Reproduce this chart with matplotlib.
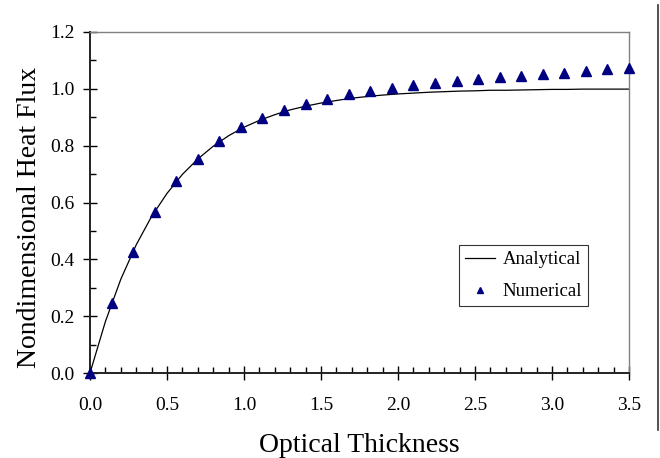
import matplotlib
matplotlib.use("Agg")
import matplotlib.pyplot as plt
from matplotlib.lines import Line2D
from matplotlib.ticker import MultipleLocator, FormatStrFormatter

# --- DATA ---
tau_analytical = [0.0, 0.1, 0.2, 0.3, 0.4, 0.5, 0.6, 0.7, 0.8, 0.9,
                  1.0, 1.1, 1.2, 1.3, 1.4, 1.5, 1.6, 1.7, 1.8, 1.9,
                  2.0, 2.1, 2.2, 2.3, 2.4, 2.5, 2.6, 2.7, 2.8, 2.9,
                  3.0, 3.1, 3.2, 3.3, 3.4, 3.5]
flux_analytical = [0.000, 0.181, 0.330, 0.451, 0.551, 0.632, 0.699, 0.753, 0.798, 0.835,
                   0.865, 0.889, 0.909, 0.926, 0.939, 0.950, 0.959, 0.967, 0.973, 0.978,
                   0.982, 0.985, 0.988, 0.990, 0.992, 0.993, 0.995, 0.995, 0.996, 0.997,
                   0.998, 0.998, 0.999, 0.999, 0.999, 0.999]

tau_numerical = [0.00, 0.14, 0.28, 0.42, 0.56, 0.70, 0.84, 0.98, 1.12, 1.26,
                 1.40, 1.54, 1.68, 1.82, 1.96, 2.10, 2.24, 2.38, 2.52, 2.66,
                 2.80, 2.94, 3.08, 3.22, 3.36, 3.50]
flux_numerical = [0.000, 0.245, 0.427, 0.567, 0.674, 0.753, 0.816, 0.864, 0.899, 0.927,
                  0.945, 0.963, 0.981, 0.994, 1.004, 1.012, 1.019, 1.027, 1.033, 1.040,
                  1.046, 1.051, 1.057, 1.064, 1.069, 1.074]

x_ticks = [0.0, 0.5, 1.0, 1.5, 2.0, 2.5, 3.0, 3.5]
y_ticks = [0.0, 0.2, 0.4, 0.6, 0.8, 1.0, 1.2]

plt.rcParams['font.family'] = ['Liberation Serif', 'DejaVu Serif']

fig = plt.figure(figsize=(6.6, 4.58), dpi=100)
ax = fig.add_axes([90 / 660, 85 / 458, 539 / 660, 341 / 458])

ax.plot(tau_analytical, flux_analytical, color='black', linewidth=0.9, label='Analytical')
ax.plot(tau_numerical, flux_numerical, linestyle='none', marker='^', markersize=7,
        color='#000080', label='Numerical', clip_on=False, zorder=5)

ax.set_xlim(0, 3.5)
ax.set_ylim(0, 1.2)
ax.set_xticks(x_ticks)
ax.set_yticks(y_ticks)
ax.xaxis.set_major_formatter(FormatStrFormatter('%.1f'))
ax.yaxis.set_major_formatter(FormatStrFormatter('%.1f'))
ax.xaxis.set_minor_locator(MultipleLocator(0.1))
ax.yaxis.set_minor_locator(MultipleLocator(0.1))

ax.tick_params(axis='both', which='major', direction='inout', length=10, width=1.0,
               labelsize=14, color='black')
ax.tick_params(axis='both', which='minor', direction='in', length=4, width=1.0, color='black')
ax.tick_params(axis='x', which='major', pad=12)
ax.tick_params(axis='y', which='major', pad=6)

for side in ['left', 'bottom']:
    ax.spines[side].set_color('#222222')
    ax.spines[side].set_linewidth(1.4)
for side in ['top', 'right']:
    ax.spines[side].set_color('#808080')
    ax.spines[side].set_linewidth(1.0)

ax.set_xlabel('Optical Thickness', fontsize=20, labelpad=14)
ax.set_ylabel('Nondimensional Heat Flux', fontsize=20)
ax.yaxis.set_label_coords(-0.089, 0.456)

leg = ax.legend(loc='upper left', bbox_to_anchor=((459 - 90) / 539, 1 - (245 - 32) / 341),
                fontsize=13.5, frameon=True, fancybox=False, handlelength=1.6,
                markerscale=0.6, borderpad=0.32, labelspacing=0.8, handletextpad=0.4,
                borderaxespad=0)
leg.get_frame().set_edgecolor('black')
leg.get_frame().set_linewidth(0.8)

# vertical separator line at the right edge
fig.add_artist(Line2D([658 / 660, 658 / 660], [1 - 5 / 458, 1 - 430 / 458],
                      transform=fig.transFigure, color='#333333', linewidth=1.2))

fig.savefig('out.png', dpi=100)
